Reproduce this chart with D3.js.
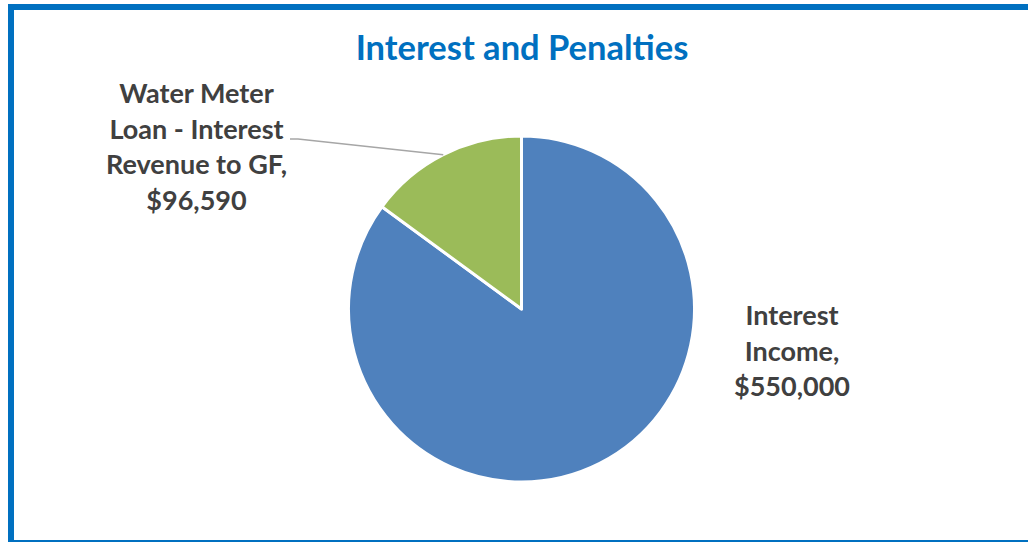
<!DOCTYPE html>
<html>
<head>
<meta charset="utf-8">
<script src="https://cdn.jsdelivr.net/npm/d3@7"></script>
<style>
  html, body { margin: 0; padding: 0; background: #fff; }
  svg { display: block; }
  text { font-family: Lato, "Open Sans", sans-serif; font-weight: bold; }
</style>
</head>
<body>
<svg id="chart" width="1028" height="542"></svg>
<script>
// Revenue sources and amounts
const categories = ["Interest Income", "Water Meter Loan - Interest Revenue to GF"];
const values = [550000, 96590];
const labelLines = [
  ["Interest", "Income,", "$550,000"],
  ["Water Meter", "Loan - Interest", "Revenue to GF,", "$96,590"]
];
const sliceColors = ["#4f81bd", "#9bbb59"];
const title = "Interest and Penalties";

const svg = d3.select("#chart");
const W = 1028, H = 542;

// Outer frame (right edge runs off the canvas)
svg.append("rect")
  .attr("x", 11).attr("y", 7)
  .attr("width", W + 20).attr("height", 536)
  .attr("fill", "none")
  .attr("stroke", "#0070c0")
  .attr("stroke-width", 6);

// Title
svg.append("text")
  .attr("x", 522).attr("y", 60)
  .attr("text-anchor", "middle")
  .attr("fill", "#0070c0")
  .attr("font-size", 34.5)
  .text(title);

const cx = 521.5, cy = 309, radius = 173;
const g = svg.append("g").attr("transform", `translate(${cx},${cy})`);

const pie = d3.pie().sort(null).value(d => d)(values);
const arc = d3.arc().innerRadius(0).outerRadius(radius);

g.selectAll("path.slice")
  .data(pie)
  .join("path")
  .attr("class", "slice")
  .attr("d", arc)
  .attr("fill", (d, i) => sliceColors[i])
  .attr("stroke", "#fff")
  .attr("stroke-width", 3)
  .attr("stroke-linejoin", "round");

// Label placement (relative to pie center), with optional leader line
const labelPos = [
  { x: 792 - cx, y: 325 - cy, leader: false },
  { x: 196.5 - cx, y: 103 - cy, leader: true, lx: 290 - cx, ly: 139 - cy }
];
const lineGap = 35.5;

pie.forEach((d, i) => {
  const p = labelPos[i];
  if (p.leader) {
    const mid = (d.startAngle + d.endAngle) / 2;
    const ex = Math.sin(mid) * radius, ey = -Math.cos(mid) * radius;
    g.append("path")
      .attr("d", `M${p.lx},${p.ly} L${p.lx + 8},${p.ly} L${ex},${ey}`)
      .attr("fill", "none")
      .attr("stroke", "#a6a6a6")
      .attr("stroke-width", 1.5);
  }
  const t = g.append("text")
    .attr("text-anchor", "middle")
    .attr("fill", "#404040")
    .attr("font-size", 27);
  labelLines[i].forEach((line, j) => {
    t.append("tspan")
      .attr("x", p.x)
      .attr("y", p.y + j * lineGap)
      .text(line);
  });
});
</script>
</body>
</html>
